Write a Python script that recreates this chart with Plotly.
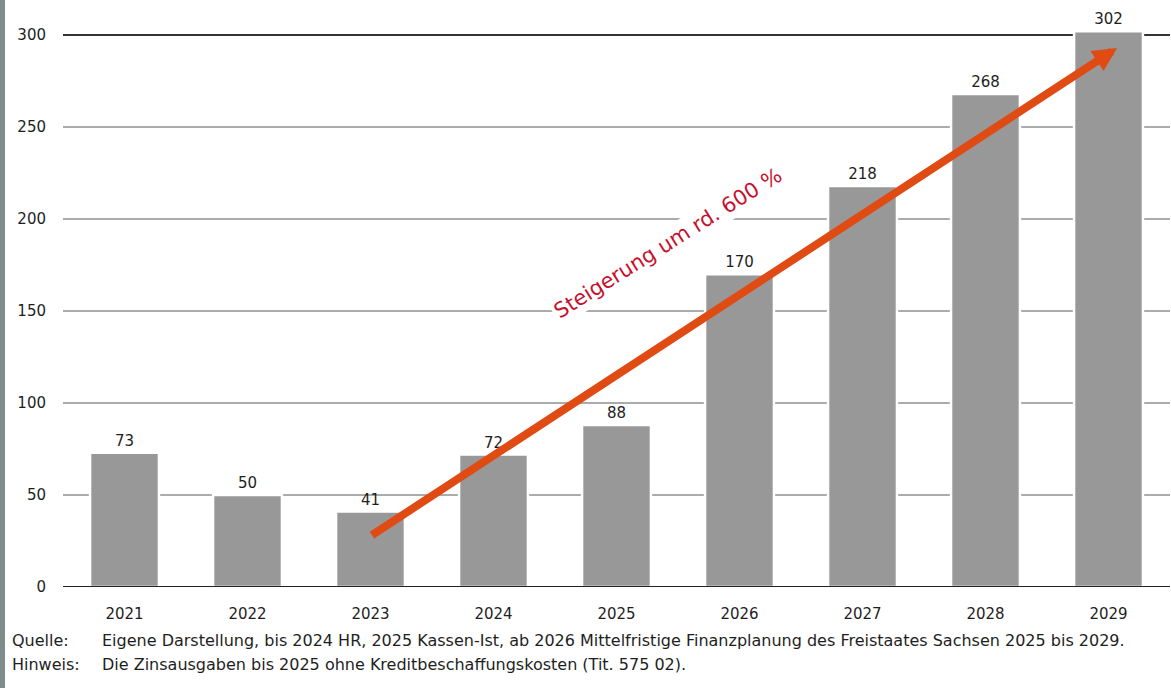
import plotly.graph_objects as go

years = ["2021", "2022", "2023", "2024", "2025", "2026", "2027", "2028", "2029"]
values = [73, 50, 41, 72, 88, 170, 218, 268, 302]
y_ticks = [0, 50, 100, 150, 200, 250, 300]
arrow_from = (2.0, 27.7)
arrow_to = (8.07, 293)
label_text = "Steigerung um rd. 600 %"
source_label = "Quelle:"
source_text = "Eigene Darstellung, bis 2024 HR, 2025 Kassen-Ist, ab 2026 Mittelfristige Finanzplanung des Freistaates Sachsen 2025 bis 2029."
note_label = "Hinweis:"
note_text = "Die Zinsausgaben bis 2025 ohne Kreditbeschaffungskosten (Tit. 575 02)."

W, H = 1171, 688
ML, MR, MT, MB = 63, 1, 15, 101
PH = H - MT - MB
PW = W - ML - MR
FONT = "DejaVu Sans"
TXT = "#1e1e1e"

fig = go.Figure()
fig.add_trace(go.Bar(
    x=list(range(len(years))), y=values,
    marker=dict(color="#989898", line=dict(color="white", width=2.5)),
    width=0.56,
    text=[str(v) for v in values], textposition="outside",
    textfont=dict(family=FONT, size=15, color=TXT),
    cliponaxis=False, hoverinfo="skip",
))

shapes = [
    dict(type="rect", xref="paper", yref="paper", x0=-ML / PW, x1=-(ML - 5) / PW,
         y0=-MB / PH, y1=1 + MT / PH,
         fillcolor="#7f8c8c", line=dict(width=0), layer="above"),
]
for t in y_ticks:
    if t == 0:
        shapes.append(dict(type="line", xref="paper", yref="y", x0=0, x1=1, y0=t, y1=t,
                           line=dict(color="#222222", width=2), layer="above"))
    elif t == 300:
        shapes.append(dict(type="line", xref="paper", yref="y", x0=0, x1=1, y0=t, y1=t,
                           line=dict(color="#333333", width=2), layer="below"))
    else:
        shapes.append(dict(type="line", xref="paper", yref="y", x0=0, x1=1, y0=t, y1=t,
                           line=dict(color="#ababab", width=2), layer="below"))

def py(ypix):
    return -(ypix - (H - MB)) / PH

annotations = [
    dict(x=arrow_to[0], y=arrow_to[1], ax=arrow_from[0], ay=arrow_from[1],
         xref="x", yref="y", axref="x", ayref="y", text="", showarrow=True,
         arrowhead=2, arrowsize=0.6, arrowwidth=8, arrowcolor="#e04b14", standoff=0),
    dict(x=4.42, y=187, xref="x", yref="y", text=label_text, showarrow=False,
         textangle=-32, bgcolor="white", borderpad=2,
         font=dict(family=FONT, size=21, color="#c8102e")),
    dict(x=-(ML - 10) / PW, y=py(640), xref="paper", yref="paper",
         xanchor="left", yanchor="middle", text=source_label, showarrow=False,
         font=dict(family=FONT, size=16, color=TXT)),
    dict(x=(100 - ML) / PW, y=py(640), xref="paper", yref="paper",
         xanchor="left", yanchor="middle", text=source_text, showarrow=False,
         font=dict(family=FONT, size=16, color=TXT)),
    dict(x=-(ML - 10) / PW, y=py(664), xref="paper", yref="paper",
         xanchor="left", yanchor="middle", text=note_label, showarrow=False,
         font=dict(family=FONT, size=16, color=TXT)),
    dict(x=(100 - ML) / PW, y=py(664), xref="paper", yref="paper",
         xanchor="left", yanchor="middle", text=note_text, showarrow=False,
         font=dict(family=FONT, size=16, color=TXT)),
]

fig.update_layout(
    width=W, height=H,
    margin=dict(l=ML, r=MR, t=MT, b=MB, autoexpand=False),
    paper_bgcolor="white", plot_bgcolor="white",
    showlegend=False,
    shapes=shapes, annotations=annotations,
    xaxis=dict(range=[-0.5, len(years) - 0.5], tickvals=list(range(len(years))),
               ticktext=years, showgrid=False, zeroline=False, showline=False,
               ticks="", tickfont=dict(family=FONT, size=15, color=TXT),
               ticklabelstandoff=16, automargin=False),
    yaxis=dict(range=[0, PH / 1.84], tickvals=y_ticks,
               showgrid=False, zeroline=False,
               showline=False, ticks="", tickfont=dict(family=FONT, size=15, color=TXT),
               ticklabelstandoff=16, automargin=False),
)

fig.write_html("out.html", config={"displayModeBar": False},
               post_script="document.body.style.margin='0';document.body.style.overflow='hidden';")
